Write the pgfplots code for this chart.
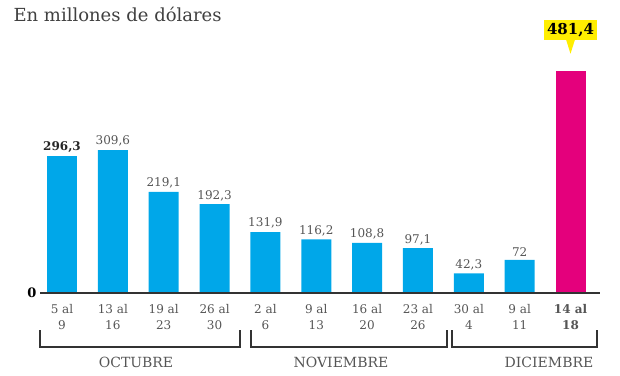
\documentclass[border=0pt]{standalone}
\usepackage{pgfplots}
\pgfplotsset{compat=1.18}
\usepackage{fontspec}
\setmainfont{DejaVu Serif}
\definecolor{barblue}{RGB}{0,167,233}
\definecolor{barmag}{RGB}{228,0,124}
\definecolor{callyel}{RGB}{255,238,0}
\definecolor{txtgray}{RGB}{85,85,85}
\definecolor{linegray}{RGB}{51,51,51}
\begin{document}
\begin{tikzpicture}[x=1pt,y=1pt]
\path[use as bounding box] (0,0) rectangle (620,375);
\begin{axis}[at={(40pt,82pt)}, anchor=south west, scale only axis,
  width=560pt, height=253pt,
  xmin=-0.433, xmax=10.58, ymin=0, ymax=548, clip=false,
  axis on top,
  axis x line*=bottom, axis y line*=left,
  y axis line style={draw=none},
  x axis line style={line width=2pt, draw=linegray, -},
  xtick={0,...,10}, ytick={0}, major tick length=0pt,
  yticklabels={\textbf{0}},
  yticklabel style={font=\fontsize{13}{13}\selectfont, text=black},
  xticklabels={{5 al\\9},{13 al\\16},{19 al\\23},{26 al\\30},{2 al\\6},{9 al\\13},{16 al\\20},{23 al\\26},{30 al\\4},{9 al\\11},{\textbf{14 al}\\\textbf{18}}},
  xticklabel style={align=center, font=\fontsize{12}{16}\selectfont, text=txtgray, yshift=-8pt},
]
\addplot[ybar, bar width=30pt, bar shift=0pt, fill=barblue, draw=none,
  nodes near coords, point meta=explicit symbolic,
  every node near coord/.append style={font=\fontsize{12}{12}\selectfont, text=txtgray}]
  table[meta=lab] {
x y lab
1 309.6 309,6
2 219.1 219,1
3 192.3 192,3
4 131.9 131,9
5 116.2 116,2
6 108.8 108,8
7 97.1 97,1
8 42.3 42,3
9 72 72
};
\addplot[ybar, bar width=30pt, bar shift=0pt, fill=barblue, draw=none,
  nodes near coords, point meta=explicit symbolic,
  every node near coord/.append style={font=\fontsize{12}{12}\selectfont\bfseries, text=black!85}]
  table[meta=lab] {
x y lab
0 296.3 296,3
};
\addplot[ybar, bar width=30pt, bar shift=0pt, fill=barmag, draw=none,
  nodes near coords, point meta=explicit symbolic,
  every node near coord/.append style={fill=callyel, name=cal,
    font=\fontsize{15}{15}\selectfont\bfseries, text=black, inner sep=3pt,
    anchor=south, yshift=31pt}]
  table[meta=lab] {
x y lab
10 481.4 481,4
};
\end{axis}
\fill[callyel] ([xshift=-4.5pt,yshift=0.3pt]cal.south) -- ([xshift=4.5pt,yshift=0.3pt]cal.south) -- ([yshift=-14pt]cal.south) -- cycle;
\node[anchor=base west, font=\fontsize{18}{18}\selectfont, text=black!75] at (10,353) {En millones de dólares};
\draw[linegray, line width=1.5pt] (40,45) -- (40,28) -- (240,28) -- (240,45);
\draw[linegray, line width=1.5pt] (251,45) -- (251,28) -- (447,28) -- (447,45);
\draw[linegray, line width=1.5pt] (452,45) -- (452,28) -- (597,28) -- (597,45);
\node[font=\fontsize{14}{14}\selectfont, text=txtgray] at (136,13) {OCTUBRE};
\node[font=\fontsize{14}{14}\selectfont, text=txtgray] at (341,13) {NOVIEMBRE};
\node[font=\fontsize{14}{14}\selectfont, text=txtgray] at (549,13) {DICIEMBRE};
\end{tikzpicture}
\end{document}
